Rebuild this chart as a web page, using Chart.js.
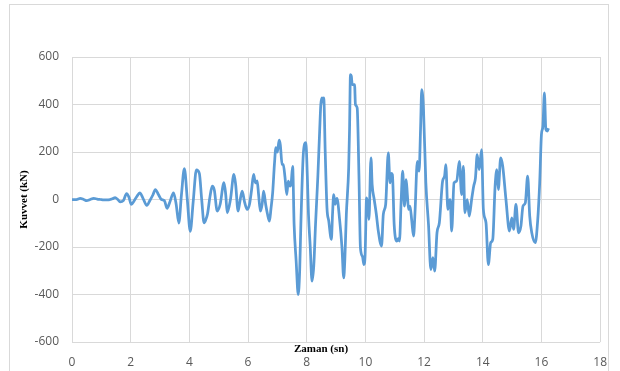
<!DOCTYPE html>
<html>
<head>
<meta charset="utf-8">
<script src="https://cdn.jsdelivr.net/npm/chart.js@4/dist/chart.umd.min.js"></script>
<style>
  html, body { margin: 0; padding: 0; background: #fff; }
  #wrap { position: relative; width: 620px; height: 371px; }
</style>
</head>
<body>
<div id="wrap"><canvas id="chart" width="620" height="371"></canvas></div>
<script>
// zaman (sn)
const timeSn = [
  0, 0.15, 0.28, 0.4, 0.5, 0.62, 0.74, 0.86, 0.97, 1.08, 1.2, 1.3, 1.38, 1.47, 1.56, 1.64, 1.75,
  1.86, 1.94, 2.02, 2.12, 2.22, 2.31, 2.42, 2.55, 2.65, 2.76, 2.84, 2.95, 3.05, 3.15, 3.24, 3.35, 3.46,
  3.55, 3.64, 3.73, 3.83, 3.93, 4.03, 4.13, 4.24, 4.34, 4.42, 4.5, 4.56, 4.62, 4.7, 4.78, 4.85, 4.95,
  5.05, 5.18, 5.24, 5.29, 5.4, 5.52, 5.58, 5.66, 5.72, 5.8, 5.88, 5.97, 6.05, 6.12, 6.19, 6.25, 6.31,
  6.36, 6.42, 6.48, 6.53, 6.6, 6.66, 6.73, 6.78, 6.84, 6.9, 6.95, 7.0, 7.06, 7.1, 7.16, 7.2, 7.26,
  7.32, 7.37, 7.43, 7.47, 7.52, 7.57, 7.64, 7.71, 7.76, 7.8, 7.89, 7.97, 8.02, 8.06, 8.12, 8.18, 8.24,
  8.3, 8.38, 8.44, 8.48, 8.52, 8.55, 8.58, 8.63, 8.69, 8.75, 8.84, 8.88, 8.92, 8.97, 9.03, 9.12, 9.2, 9.26,
  9.3, 9.35, 9.43, 9.46, 9.49, 9.52, 9.55, 9.63, 9.66, 9.72, 9.78, 9.83, 9.9, 9.95, 9.99, 10.04, 10.1,
  10.12, 10.19, 10.23, 10.3, 10.37, 10.44, 10.55, 10.61, 10.69, 10.78, 10.84, 10.88, 10.92, 10.98,
  11.07, 11.12, 11.16, 11.22, 11.27, 11.33, 11.39, 11.43, 11.47, 11.52, 11.58, 11.64, 11.69, 11.77,
  11.83, 11.88, 11.92, 11.95, 11.98, 12.06, 12.15, 12.23, 12.3, 12.36, 12.44, 12.52, 12.63, 12.7,
  12.74, 12.81, 12.85, 12.89, 12.94, 13.02, 13.11, 13.2, 13.28, 13.34, 13.39, 13.47, 13.54, 13.62,
  13.69, 13.75, 13.81, 13.88, 13.96, 14.02, 14.11, 14.19, 14.27, 14.34, 14.42, 14.48, 14.53, 14.61,
  14.68, 14.79, 14.91, 14.99, 15.05, 15.13, 15.22, 15.3, 15.37, 15.45, 15.53, 15.6, 15.67, 15.79,
  15.87, 15.94, 16.0, 16.05, 16.1, 16.15, 16.2, 16.24
];
// kuvvet (kN)
const kuvvetKN = [
  0, 0, 5, 0, -5, 0, 5, 2, 0, -2, -2, 0, 3, 8, 0, -10, -5,
  25, 10, -21, -5, 15, 28, 5, -25, -5, 20, 42, 20, 0, -5, -37, -5, 28,
  -20, -99, 20, 130, 0, -134, -10, 125, 110, 0, -98, -85, -60, 10, 56, 40, -49,
  -20, 71, 20, -56, 0, 106, 60, -49, -10, 35, -10, -42, -20, 40, 106, 70, 78,
  20, -49, -20, 35, -20, -60, -91, -40, 30, 150, 218, 200, 250, 230, 148, 147, 93,
  21, 77, 56, 70, 140, -105, -260, -400, -300, -105, 203, 239, 100, -63, -200, -344, -280,
  -105, 100, 287, 400, 428, 410, 428, 200, -35, -90, -168, -60, 21, -20, 5, -84, -200, -330,
  -250, -63, 133, 300, 526, 520, 484, 484, 400, 385, 100, -203, -240, -274, -232, 7, -40,
  -84, 175, 63, 0, -60, -133, -196, -63, -21, 196, 70, 110, 105, -105,
  -175, -165, -175, 0, 119, -28, 84, 20, -42, -28, -90, -154, -56, 161,
  119, 300, 463, 440, 379, 70, -105, -295, -245, -302, -140, -98, 77, 100,
  147, -42, -10, 0, -133, 70, 77, 161, 21, 140, -56, 0, -70, 0,
  56, 90, 189, 126, 210, -42, -98, -274, -182, -168, 56, 126, 42, 175,
  140, 0, -133, -77, -126, -21, -140, -112, -28, -14, 98, -70, -140, -182,
  -91, 70, 274, 309, 449, 295, 288, 300
];
const xTicks = [0, 2, 4, 6, 8, 10, 12, 14, 16, 18];
const yTicks = [-600, -400, -200, 0, 200, 400, 600];

const points = timeSn.map((t, i) => ({ x: t, y: kuvvetKN[i] }));

const gridColor = "#d9d9d9";
const tickFont = { family: "Open Sans", size: 12 };

// dış çerçeve ve x ekseni başlığı
const framePlugin = {
  id: "frame",
  beforeDraw(chart) {
    const ctx = chart.ctx;
    ctx.save();
    ctx.strokeStyle = "#d9d9d9";
    ctx.lineWidth = 1;
    ctx.strokeRect(9.5, 4.5, 599, 380);
    ctx.restore();
  },
  afterDraw(chart) {
    const ctx = chart.ctx;
    ctx.save();
    ctx.font = "bold 11px 'Liberation Serif'";
    ctx.fillStyle = "#000";
    ctx.textAlign = "center";
    ctx.textBaseline = "middle";
    ctx.fillText("Zaman (sn)", 321, 349);
    ctx.restore();
  }
};

new Chart(document.getElementById("chart"), {
  type: "line",
  data: {
    datasets: [{
      data: points,
      borderColor: "#5B9BD5",
      borderWidth: 2.75,
      pointRadius: 0,
      cubicInterpolationMode: "monotone",
      borderJoinStyle: "round",
      fill: false
    }]
  },
  options: {
    responsive: false,
    animation: false,
    layout: { padding: { top: 57, right: 19, bottom: 0, left: 0 } },
    plugins: { legend: { display: false }, tooltip: { enabled: false } },
    scales: {
      x: {
        type: "linear",
        min: 0,
        max: 18,
        afterBuildTicks: s => { s.ticks = xTicks.map(v => ({ value: v })); },
        afterFit: s => { s.height = 29; },
        grid: { color: gridColor, drawTicks: false },
        border: { display: false },
        ticks: { color: "#595959", font: tickFont, padding: 13, maxRotation: 0 }
      },
      y: {
        min: -600,
        max: 600,
        afterBuildTicks: s => { s.ticks = yTicks.map(v => ({ value: v })); },
        afterFit: s => { s.width = 72; },
        grid: { color: gridColor, drawTicks: false },
        border: { display: false },
        ticks: { color: "#595959", font: tickFont, padding: 13 },
        title: {
          display: true,
          text: "Kuvvet (kN)",
          color: "#000",
          font: { family: "Liberation Serif", size: 11, weight: "bold" },
          padding: { top: 18, bottom: 0 }
        }
      }
    }
  },
  plugins: [framePlugin]
});
</script>
</body>
</html>
